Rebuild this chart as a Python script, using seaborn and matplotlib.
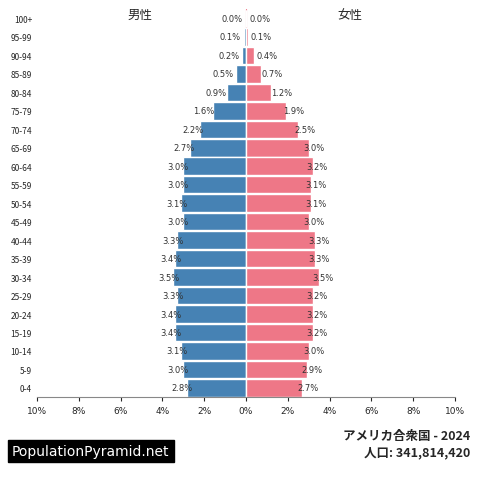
import matplotlib
matplotlib.use("Agg")
import matplotlib.pyplot as plt
import seaborn as sns
import pandas as pd

ages = ["0-4","5-9","10-14","15-19","20-24","25-29","30-34","35-39","40-44","45-49",
        "50-54","55-59","60-64","65-69","70-74","75-79","80-84","85-89","90-94","95-99","100+"]
male = [2.8,3.0,3.1,3.4,3.4,3.3,3.5,3.4,3.3,3.0,3.1,3.0,3.0,2.7,2.2,1.6,0.9,0.5,0.2,0.1,0.0]
female = [2.7,2.9,3.0,3.2,3.2,3.2,3.5,3.3,3.3,3.0,3.1,3.1,3.2,3.0,2.5,1.9,1.2,0.7,0.4,0.1,0.0]
xticks = [-10,-8,-6,-4,-2,0,2,4,6,8,10]

sns.set_style("white")
plt.rcParams['font.family'] = ['Noto Sans CJK JP', 'DejaVu Sans']

order = ages[::-1]
df = pd.DataFrame({"age": ages, "male": [-v for v in male], "female": female})

fig = plt.figure(figsize=(4.8, 4.85), dpi=100)
ax = fig.add_axes([0.077, 0.179, 0.871, 0.8])
sns.barplot(data=df, x="male", y="age", order=order, color="#4682B4", width=0.95,
            saturation=1, ax=ax, orient="h")
sns.barplot(data=df, x="female", y="age", order=order, color="#EE7787", width=0.95,
            saturation=1, ax=ax, orient="h")
for i, a in enumerate(order):
    k = ages.index(a)
    ax.text(-male[k] * 0.86 - 0.15, i, f"{male[k]:.1f}%", ha="right", va="center", fontsize=6,
            color="#333333", family="DejaVu Sans")
    ax.text(female[k] * 0.86 + 0.15, i, f"{female[k]:.1f}%", ha="left", va="center", fontsize=6,
            color="#333333", family="DejaVu Sans")
ax.set_xlim(-10, 10)
ax.set_ylim(len(order) - 0.5, -0.5)
ax.set_xticks(xticks)
ax.set_xticklabels([f"{abs(t)}%" for t in xticks], fontsize=6.5, family="DejaVu Sans")
ax.tick_params(axis="y", labelsize=6, length=0)
ax.tick_params(axis="x", length=3, bottom=True)
ax.set_xlabel(""); ax.set_ylabel("")
for s in ["top", "right", "left"]:
    ax.spines[s].set_visible(False)
ax.spines["bottom"].set_color("#888888")
ax.axvline(0, color="#EE7787", lw=0.8, zorder=0)

fig.text(140/480, 1 - 15/485, "男性", fontsize=9, ha="center", va="center")
fig.text(350/480, 1 - 15/485, "女性", fontsize=9, ha="center", va="center")
fig.text(12/480, 1 - 452/485, "PopulationPyramid.net", fontsize=10, color="white",
         ha="left", va="center", family="DejaVu Sans",
         bbox=dict(facecolor="black", edgecolor="black", pad=3))
fig.text(470/480, 1 - 437/485, "アメリカ合衆国 - 2024", fontsize=9, fontweight="bold",
         ha="right", va="center")
fig.text(470/480, 1 - 453/485, "人口: 341,814,420", fontsize=9, fontweight="bold",
         ha="right", va="center")
fig.savefig("out.png", dpi=100)
